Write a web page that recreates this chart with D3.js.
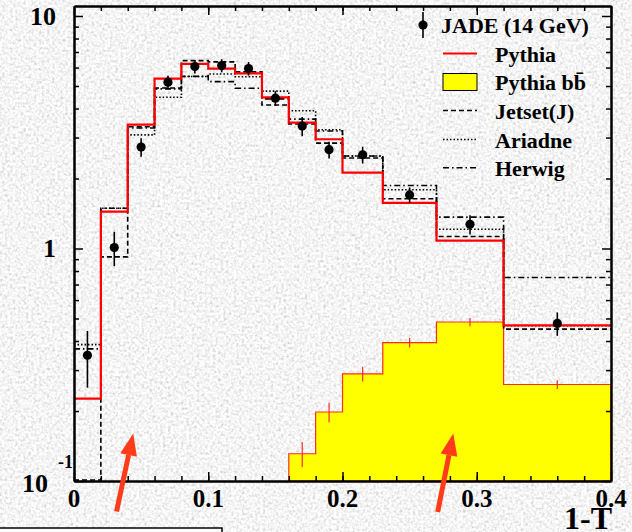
<!DOCTYPE html>
<html>
<head>
<meta charset="utf-8">
<script src="https://cdn.jsdelivr.net/npm/d3@7"></script>
<style>
body { margin: 0; background: #e8e8e8; }
svg text {
  font-family: "Liberation Serif", "Times New Roman", serif;
  font-weight: bold;
  fill: #000;
}
.axis path, .axis line { stroke: #000; }
.axis path { stroke-width: 2; }
.axis line { stroke-width: 1.5; }
</style>
</head>
<body>
<svg id="chart"></svg>
<script>

var width = 632;
var height = 532;
var margin = ({top: 6, right: 21, bottom: 51, left: 74});

// bin edges in 1-T
var binEdges = [0, 0.02, 0.04, 0.06, 0.08, 0.10, 0.12, 0.14, 0.16, 0.18, 0.20, 0.23, 0.27, 0.32, 0.40];

// JADE data points
var jadeX   = [0.01, 0.03, 0.05, 0.07, 0.09, 0.11, 0.13, 0.15, 0.17, 0.19, 0.215, 0.25, 0.295, 0.36];
var jadeY   = [0.347, 1.01, 2.73, 5.19, 6.06, 6.12, 5.94, 4.43, 3.36, 2.66, 2.53, 1.70, 1.27, 0.476];
var jadeErr = [0.095, 0.17, 0.25, 0.35, 0.40, 0.40, 0.40, 0.32, 0.32, 0.22, 0.21, 0.13, 0.12, 0.055];

// MC predictions per bin
var pythia  = [0.226, 1.44, 3.41, 5.38, 6.22, 5.94, 5.67, 4.47, 3.48, 2.95, 2.12, 1.57, 1.08, 0.467];
var jetset  = [0.101, 0.92, 3.34, 4.90, 6.43, 6.35, 5.75, 4.14, 3.43, 2.84, 2.45, 1.636, 1.126, 0.45];
var ariadne = [0.386, 1.49, 3.08, 4.47, 5.49, 5.63, 5.48, 4.75, 3.91, 3.24, 2.50, 1.79, 1.21, 0.465];
var herwig  = [0.37, 1.49, 3.30, 4.86, 5.50, 5.22, 4.89, 4.40, 3.60, 3.20, 2.50, 1.865, 1.364, 0.75];

// Pythia bb (only from 0.16 on)
var bbFirstBin = 8;
var pythiaBB    = [0.131, 0.198, 0.289, 0.394, 0.483, 0.26];
var pythiaBBErr = [0.016, 0.019, 0.021, 0.019, 0.020, 0.011];

// ticks
var xMajor = [0, 0.1, 0.2, 0.3, 0.4];
var xMinor = d3.range(1, 20).map(i => +(i * 0.02).toFixed(2));
var yMajor = [0.1, 1, 10];
var yMinor = [0.2, 0.3, 0.4, 0.5, 0.6, 0.7, 0.8, 0.9, 2, 3, 4, 5, 6, 7, 8, 9];

var legendNames = ["JADE (14 GeV)", "Pythia", "Pythia bb\u0304", "Jetset(J)", "Ariadne", "Herwig"];

// annotation arrows [x tail, y tail, x tip, y tip] in data units
var arrows = [
  [0.0317, 0.074, 0.0441, 0.16],
  [0.2709, 0.0736, 0.2825, 0.16]
];

var svg = d3.select("#chart")
  .attr("width", width)
  .attr("height", height);

// textured grey background
var defs = svg.append("defs");
var f = defs.append("filter").attr("id", "noise")
  .attr("x", 0).attr("y", 0).attr("width", "100%").attr("height", "100%");
f.append("feTurbulence").attr("type", "fractalNoise")
  .attr("baseFrequency", 0.38).attr("numOctaves", 2).attr("seed", 7);
f.append("feColorMatrix").attr("type", "matrix")
  .attr("values", "0.5 0.5 0 0 0.41  0.5 0.5 0 0 0.41  0.5 0.5 0 0 0.41  0 0 0 0 1");
svg.append("rect")
  .attr("width", width).attr("height", height)
  .attr("filter", "url(#noise)");

var x_scale = d3.scaleLinear()
  .domain([0, 0.4])
  .range([margin.left, width - margin.right]);

var y_scale = d3.scaleLog()
  .domain([0.1, 11.04])
  .range([height - margin.bottom, margin.top]);

defs.append("clipPath").attr("id", "plot")
  .append("rect")
  .attr("x", margin.left).attr("y", margin.top)
  .attr("width", width - margin.left - margin.right)
  .attr("height", height - margin.top - margin.bottom);

var plot = svg.append("g").attr("clip-path", "url(#plot)");

function clampY(v) { return y_scale(Math.max(v, 0.1)); }

function stepPoints(values, first) {
  var pts = [];
  values.forEach(function(v, i) {
    pts.push([x_scale(binEdges[first + i]), clampY(v)]);
    pts.push([x_scale(binEdges[first + i + 1]), clampY(v)]);
  });
  return pts;
}

var line = d3.line();

// yellow Pythia bb histogram
var bbArea = d3.area()
  .x(d => d[0])
  .y0(y_scale(0.1))
  .y1(d => d[1]);
plot.append("path")
  .attr("d", bbArea(stepPoints(pythiaBB, bbFirstBin)))
  .attr("fill", "#ffff00")
  .attr("stroke", "#ff2a2a")
  .attr("stroke-width", 1.2);

plot.selectAll("line.bberr")
  .data(pythiaBB).enter().append("line")
  .attr("stroke", "#ff2a2a")
  .attr("stroke-width", 1.2)
  .attr("x1", (d, i) => x_scale(jadeX[bbFirstBin + i]))
  .attr("x2", (d, i) => x_scale(jadeX[bbFirstBin + i]))
  .attr("y1", (d, i) => y_scale(d - pythiaBBErr[i]))
  .attr("y2", (d, i) => y_scale(d + pythiaBBErr[i]));

var styles = [
  {data: herwig,  dash: "6,3,1.5,3"},
  {data: ariadne, dash: "1.5,2"},
  {data: jetset,  dash: "5,3"}
];

styles.forEach(function(s) {
  plot.append("path")
    .attr("d", line(stepPoints(s.data, 0)))
    .attr("fill", "none")
    .attr("stroke", "#000")
    .attr("stroke-width", 1.6)
    .attr("stroke-dasharray", s.dash);
});

plot.append("path")
  .attr("d", line(stepPoints(pythia, 0)))
  .attr("fill", "none")
  .attr("stroke", "#ff0000")
  .attr("stroke-width", 2.2);

// JADE points
plot.selectAll("line.err")
  .data(jadeY).enter().append("line")
  .attr("stroke", "#000")
  .attr("stroke-width", 1.6)
  .attr("x1", (d, i) => x_scale(jadeX[i]))
  .attr("x2", (d, i) => x_scale(jadeX[i]))
  .attr("y1", (d, i) => y_scale(d - jadeErr[i]))
  .attr("y2", (d, i) => y_scale(d + jadeErr[i]));

plot.selectAll("circle.pt")
  .data(jadeY).enter().append("circle")
  .attr("cx", (d, i) => x_scale(jadeX[i]))
  .attr("cy", d => y_scale(d))
  .attr("r", 4.6)
  .attr("fill", "#000");

// axes (all ticks pointing inside)
var B = height - margin.bottom, T = margin.top;
var L = margin.left, R = width - margin.right;

function addAxis(axisFn, scale, transform, values, size) {
  svg.append("g")
    .attr("class", "axis")
    .attr("transform", transform)
    .call(axisFn(scale).tickValues(values).tickSize(size).tickSizeOuter(0).tickFormat(""));
}

addAxis(d3.axisTop, x_scale, `translate(0,${B})`, xMinor, 5);
addAxis(d3.axisTop, x_scale, `translate(0,${B})`, xMajor, 9);
addAxis(d3.axisBottom, x_scale, `translate(0,${T})`, xMinor, 5);
addAxis(d3.axisBottom, x_scale, `translate(0,${T})`, xMajor, 9);
addAxis(d3.axisRight, y_scale, `translate(${L},0)`, yMinor, 5);
addAxis(d3.axisRight, y_scale, `translate(${L},0)`, yMajor, 9);
addAxis(d3.axisLeft, y_scale, `translate(${R},0)`, yMinor, 5);
addAxis(d3.axisLeft, y_scale, `translate(${R},0)`, yMajor, 9);

// tick labels
svg.selectAll("text.xlab")
  .data(xMajor).enter().append("text")
  .attr("x", d => x_scale(d))
  .attr("y", B + 26)
  .attr("text-anchor", "middle")
  .attr("font-size", 25)
  .text(d => d === 0 ? "0" : d3.format(".1f")(d));

svg.append("text")
  .attr("x", L - 18).attr("y", y_scale(10) + 9)
  .attr("text-anchor", "end").attr("font-size", 26)
  .text("10");
svg.append("text")
  .attr("x", L - 18).attr("y", y_scale(1) + 9)
  .attr("text-anchor", "end").attr("font-size", 26)
  .text("1");
svg.append("text")
  .attr("x", L - 26).attr("y", y_scale(0.1) + 11)
  .attr("text-anchor", "end").attr("font-size", 26)
  .text("10");
svg.append("text")
  .attr("x", L - 1).attr("y", y_scale(0.1) - 13)
  .attr("text-anchor", "end").attr("font-size", 18)
  .text("-1");

svg.append("text")
  .attr("x", R + 1).attr("y", height - 3)
  .attr("text-anchor", "end").attr("font-size", 32)
  .text("1-T");

// legend
var lg = svg.append("g");
var lx0 = 443, lx1 = 477, ly = [25, 53.5, 82, 110.5, 139.5, 167.7];

lg.append("line").attr("x1", 423).attr("x2", 423).attr("y1", ly[0] - 13).attr("y2", ly[0] + 13)
  .attr("stroke", "#000").attr("stroke-width", 1.6);
lg.append("circle").attr("cx", 423).attr("cy", ly[0]).attr("r", 4.6).attr("fill", "#000");
lg.append("line").attr("x1", lx0).attr("x2", lx1).attr("y1", ly[1]).attr("y2", ly[1])
  .attr("stroke", "#ff0000").attr("stroke-width", 2);
lg.append("rect").attr("x", lx0).attr("y", ly[2] - 8.5).attr("width", lx1 - lx0).attr("height", 17)
  .attr("fill", "#ffff00").attr("stroke", "#000").attr("stroke-width", 1);
["5,3", "1.5,2", "6,3,1.5,3"].forEach(function(dash, i) {
  lg.append("line").attr("x1", lx0).attr("x2", lx1).attr("y1", ly[3 + i]).attr("y2", ly[3 + i])
    .attr("stroke", "#000").attr("stroke-width", 1.5).attr("stroke-dasharray", dash);
});

lg.selectAll("text")
  .data(legendNames).enter().append("text")
  .attr("x", (d, i) => i === 0 ? 441 : 495)
  .attr("y", (d, i) => ly[i] + 8)
  .attr("font-size", 22)
  .text(d => d);

// red arrows
arrows.forEach(function(a) {
  var x1 = x_scale(a[0]), y1 = y_scale(a[1]), x2 = x_scale(a[2]), y2 = y_scale(a[3]);
  var ang = Math.atan2(y2 - y1, x2 - x1);
  var hl = 22, hw = 8.5;
  var bx = x2 - hl * Math.cos(ang), by = y2 - hl * Math.sin(ang);
  svg.append("line")
    .attr("x1", x1).attr("y1", y1).attr("x2", bx).attr("y2", by)
    .attr("stroke", "#ff3b1a").attr("stroke-width", 5);
  svg.append("path")
    .attr("d", `M${x2},${y2}L${bx + hw * Math.sin(ang)},${by - hw * Math.cos(ang)}L${bx - hw * Math.sin(ang)},${by + hw * Math.cos(ang)}Z`)
    .attr("fill", "#ff3b1a");
});

// box cut off at the bottom left
svg.append("rect")
  .attr("x", -2).attr("y", 528).attr("width", 224).attr("height", 10)
  .attr("fill", "#fafafa").attr("stroke", "#000").attr("stroke-width", 1.5);

</script>
</body>
</html>
